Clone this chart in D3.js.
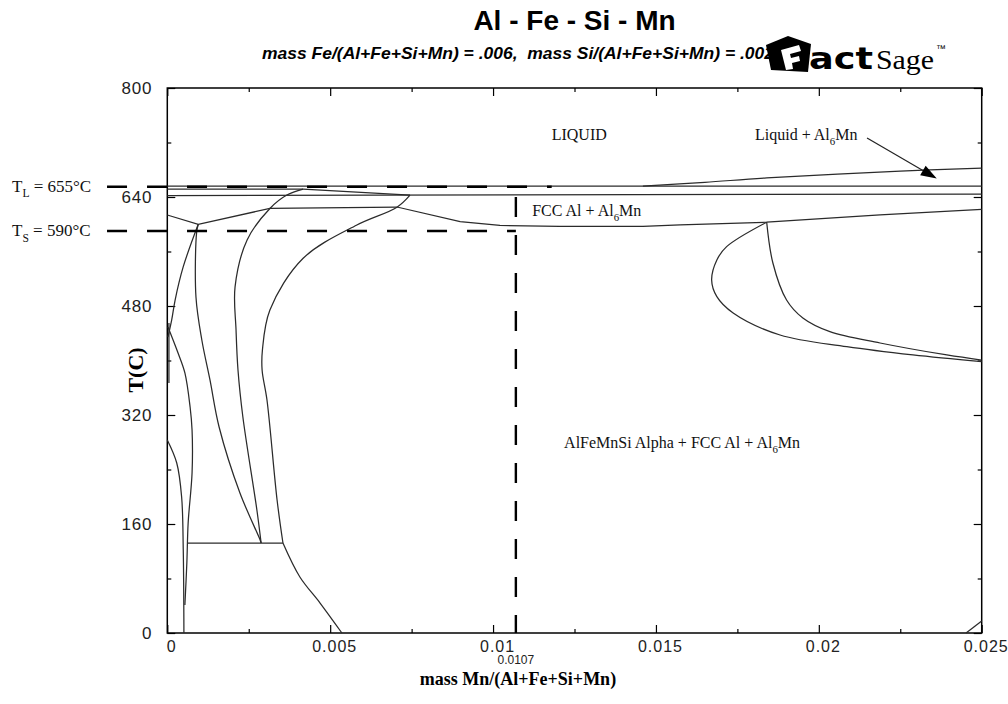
<!DOCTYPE html>
<html>
<head>
<meta charset="utf-8">
<script src="https://cdn.jsdelivr.net/npm/d3@7"></script>
<style>
  body { margin: 0; background: #fff; }
  svg { display: block; }
</style>
</head>
<body>
<svg id="chart" width="1008" height="704"></svg>
<script>
// ---- axis ticks ----
const xTicks = [0, 0.005, 0.01, 0.015, 0.02, 0.025];
const xTickLabels = ["0", "0.005", "0.01", "0.015", "0.02", "0.025"];
const xMinorTicks = [0.0025, 0.0075, 0.0125, 0.0175, 0.0225];
const yTicks = [0, 160, 320, 480, 640, 800];
const yTickLabels = ["0", "160", "320", "480", "640", "800"];
const yMinorTicks = [80, 240, 400, 560, 720];

// ---- phase boundaries: [mass Mn fraction, T (°C)] ----
const liquidusFCC = [[0, 656], [0.025, 656]];
const liquidusAl6Mn = [[0.0146, 656], [0.0165, 661.5], [0.0184, 668], [0.0225, 678], [0.025, 682.5]];
const lensTop = [[0, 651.7], [0.00417, 651.7], [0.00745, 642.7]];
const peritecticLine = [[0, 642], [0.025, 644.4]];
const fccSolidus = [[0, 613.6], [0.00095, 600], [0.00315, 623.2], [0.00705, 625.3], [0.00899, 603.7],
  [0.01021, 598.2], [0.01205, 596.7], [0.0146, 596.7], [0.01574, 598.9], [0.0184, 603],
  [0.02188, 613.6], [0.025, 622]];
const leftSolvus = [[0.00095, 600], [0.00049, 537.7], [0.00024, 488.8], [0.000135, 459.5], [0.00002, 434.5]];
const alphaBoundary = [[0.00095, 600], [0.0009, 588], [0.00088, 493.2], [0.00106, 430.1], [0.00131, 371.4],
  [0.00159, 302.4], [0.00223, 205.5], [0.00285, 136.5], [0.00288, 132.1]];
const lensLeft = [[0.00417, 651.7], [0.00367, 642.9], [0.00315, 623.2], [0.00245, 576.9], [0.00208, 508.1],
  [0.00211, 445], [0.00217, 386.1], [0.00232, 317.1], [0.00275, 180.6], [0.00288, 132.1]];
const lensRight = [[0.00745, 642.7], [0.00705, 625], [0.00582, 598.9], [0.00417, 550], [0.00315, 474.1],
  [0.00292, 415.4], [0.00291, 386.1], [0.00306, 342], [0.00337, 195.2], [0.00355, 132.1]];
const invariantLine = [[0.00063, 132.1], [0.00355, 132.1]];
const lowTempBoundary = [[0.00355, 132.1], [0.00407, 82.2], [0.00469, 44], [0.00536, 0]];
const leftInner = [[0.00002, 449.2], [0.00033, 411], [0.00054, 381.7], [0.0007, 331.7], [0.00076, 298],
  [0.00076, 234.9], [0.00064, 161.5], [0.0006, 102.8], [0.00054, 41.1]];
const leftOuter = [[0, 283.3], [0.00029, 249.5], [0.00044, 199.6], [0.00049, 121.8], [0.00051, 0]];
const axisSolvus = [[0.00005, 455], [0.00005, 367]];
const al6MnUpper = [[0.0184, 603], [0.01717, 567.1], [0.01687, 547.5], [0.01671, 518.2], [0.01687, 493.7],
  [0.01737, 469.7], [0.01881, 437.4], [0.02086, 420.3], [0.02289, 408.1], [0.025, 398.2]];
const al6MnLower = [[0.0184, 603], [0.01859, 543.1], [0.01901, 488.8], [0.01951, 462.4], [0.02034, 442.3],
  [0.02188, 425.7], [0.02393, 408.1], [0.025, 400.7]];
const cornerBoundary = [[0.02452, 0], [0.025, 17.6]];

const straightBoundaries = [liquidusFCC, lensTop, peritecticLine, fccSolidus, invariantLine, axisSolvus, cornerBoundary];
const curvedBoundaries = [liquidusAl6Mn, leftSolvus, alphaBoundary, lensLeft, lensRight, lowTempBoundary,
  leftInner, leftOuter, al6MnUpper, al6MnLower];

// ---- alloy guide values ----
const liquidusTemp = 655;
const solidusTemp = 590;
const alloyMn = 0.0107;
const guideStartMn = -0.00185;
const liquidusGuideEndMn = 0.0118;
const alloyGuideTopT = 640;

// ---- region labels: [mass Mn, T] anchor and text pieces ----
const regionLabels = [
  { at: [0.0118, 723.7], parts: [{ t: "LIQUID" }] },
  { at: [0.01804, 723.7], parts: [{ t: "Liquid + Al" }, { t: "6", sub: true }, { t: "Mn" }] },
  { at: [0.0112, 612.1], parts: [{ t: "FCC Al + Al" }, { t: "6", sub: true }, { t: "Mn" }] },
  { at: [0.01218, 271.6], parts: [{ t: "AlFeMnSi Alpha + FCC Al + Al" }, { t: "6", sub: true }, { t: "Mn" }] }
];
const arrowFrom = [0.02148, 726.6];
const arrowTo = [0.02362, 667.2];

// ---- drawing ----
const svg = d3.select("#chart");
const x = d3.scaleLinear().domain([0, 0.025]).range([167.3, 981.7]);
const y = d3.scaleLinear().domain([0, 800]).range([633, 88]);

const serif = "'Liberation Serif', 'Times New Roman', serif";
const sans = "'Liberation Sans', Arial, sans-serif";

// title and subtitle
svg.append("text")
  .attr("x", 574.5).attr("y", 30)
  .attr("text-anchor", "middle")
  .attr("font-family", sans).attr("font-weight", "bold").attr("font-size", 28)
  .text("Al - Fe - Si - Mn");

svg.append("text")
  .attr("x", 262).attr("y", 59)
  .attr("font-family", sans).attr("font-weight", "bold").attr("font-style", "italic")
  .attr("font-size", 17)
  .attr("textLength", 512).attr("lengthAdjust", "spacingAndGlyphs")
  .style("white-space", "pre")
  .text("mass Fe/(Al+Fe+Si+Mn) = .006,  mass Si/(Al+Fe+Si+Mn) = .002");

// FactSage mark
const logo = svg.append("g");
logo.append("path")
  .attr("d", "M766,45 L788,36 L811,44 L808,72 L771,70 Z")
  .attr("fill", "#000");
logo.append("path")
  .attr("d", "M781,50 L799,45 L801,51 L790,54 L791,58 L799,56 L800,61 L792,63 L793,69 L786,70 Z")
  .attr("fill", "#fff");
logo.append("text")
  .attr("x", 809).attr("y", 69)
  .attr("font-family", "'DejaVu Sans', sans-serif").attr("font-weight", "bold").attr("font-size", 31)
  .attr("textLength", 64).attr("lengthAdjust", "spacingAndGlyphs")
  .text("act");
logo.append("text")
  .attr("x", 876).attr("y", 69)
  .attr("font-family", serif).attr("font-size", 27)
  .attr("textLength", 58).attr("lengthAdjust", "spacingAndGlyphs")
  .text("Sage");
logo.append("text")
  .attr("x", 936).attr("y", 52)
  .attr("font-family", sans).attr("font-size", 10)
  .text("™");

// axes with inward ticks
function styleAxis(g) {
  g.select(".domain").remove();
  g.selectAll("line").attr("stroke", "#000").attr("stroke-width", 1.2);
  g.selectAll("text").attr("fill", "#222");
  g.attr("font-family", sans).attr("font-size", 16);
}

const bottom = svg.append("g").attr("transform", `translate(0,${y(0)})`)
  .call(d3.axisBottom(x).tickValues(xTicks).tickFormat((d, i) => xTickLabels[i])
    .tickSizeInner(-8).tickSizeOuter(0).tickPadding(8));
styleAxis(bottom);
bottom.selectAll("text").attr("dx", 4).attr("letter-spacing", 1);
svg.append("g").attr("transform", `translate(0,${y(0)})`)
  .call(d3.axisBottom(x).tickValues(xMinorTicks).tickFormat("").tickSizeInner(-4).tickSizeOuter(0))
  .call(styleAxis);
svg.append("g").attr("transform", `translate(0,${y(800)})`)
  .call(d3.axisTop(x).tickValues(xTicks).tickFormat("").tickSizeInner(-8).tickSizeOuter(0))
  .call(styleAxis);
svg.append("g").attr("transform", `translate(0,${y(800)})`)
  .call(d3.axisTop(x).tickValues(xMinorTicks).tickFormat("").tickSizeInner(-4).tickSizeOuter(0))
  .call(styleAxis);

const left = svg.append("g").attr("transform", `translate(${x(0)},0)`)
  .call(d3.axisLeft(y).tickValues(yTicks).tickFormat((d, i) => yTickLabels[i])
    .tickSizeInner(-8).tickSizeOuter(0).tickPadding(15));
styleAxis(left);
left.selectAll("text").attr("font-size", 17).attr("letter-spacing", 0.8);
svg.append("g").attr("transform", `translate(${x(0)},0)`)
  .call(d3.axisLeft(y).tickValues(yMinorTicks).tickFormat("").tickSizeInner(-4).tickSizeOuter(0))
  .call(styleAxis);
svg.append("g").attr("transform", `translate(${x(0.025)},0)`)
  .call(d3.axisRight(y).tickValues(yTicks).tickFormat("").tickSizeInner(-8).tickSizeOuter(0))
  .call(styleAxis);
svg.append("g").attr("transform", `translate(${x(0.025)},0)`)
  .call(d3.axisRight(y).tickValues(yMinorTicks).tickFormat("").tickSizeInner(-4).tickSizeOuter(0))
  .call(styleAxis);

// plot frame
svg.append("rect")
  .attr("x", x(0)).attr("y", y(800))
  .attr("width", x(0.025) - x(0)).attr("height", y(0) - y(800))
  .attr("fill", "none").attr("stroke", "#000").attr("stroke-width", 1.5);

// phase boundaries
const lineStraight = d3.line().x(d => x(d[0])).y(d => y(d[1]));
const lineCurved = d3.line().x(d => x(d[0])).y(d => y(d[1])).curve(d3.curveCatmullRom.alpha(0.5));
const bounds = svg.append("g").attr("fill", "none").attr("stroke", "#2b2b2b").attr("stroke-width", 1.25);
straightBoundaries.forEach(b => bounds.append("path").attr("d", lineStraight(b)));
curvedBoundaries.forEach(b => bounds.append("path").attr("d", lineCurved(b)));

// alloy guides (dashed)
const guides = svg.append("g").attr("stroke", "#000").attr("stroke-width", 2.4)
  .attr("stroke-dasharray", "20,20").attr("fill", "none");
guides.append("line")
  .attr("x1", x(guideStartMn)).attr("x2", x(liquidusGuideEndMn))
  .attr("y1", y(liquidusTemp)).attr("y2", y(liquidusTemp));
guides.append("line")
  .attr("x1", x(guideStartMn)).attr("x2", x(alloyMn))
  .attr("y1", y(solidusTemp)).attr("y2", y(solidusTemp));
guides.append("line")
  .attr("x1", x(alloyMn)).attr("x2", x(alloyMn))
  .attr("y1", y(alloyGuideTopT)).attr("y2", y(0))
  .attr("stroke-dasharray", "20,18");

// rich text helper for subscripts
function richText(parent, parts, size, family) {
  const t = parent.append("text").attr("font-family", family).attr("font-size", size).attr("fill", "#111");
  let shifted = false;
  parts.forEach(p => {
    const s = t.append("tspan").text(p.t);
    if (p.sub) { s.attr("dy", size * 0.32).attr("font-size", size * 0.68); shifted = true; }
    else if (shifted) { s.attr("dy", -size * 0.32); shifted = false; }
  });
  return t;
}

// guide labels
richText(svg, [{ t: "T" }, { t: "L", sub: true }, { t: ` = ${liquidusTemp}°C` }], 17, serif)
  .attr("transform", `translate(12,${y(liquidusTemp) + 5})`);
richText(svg, [{ t: "T" }, { t: "S", sub: true }, { t: ` = ${solidusTemp}°C` }], 17, serif)
  .attr("transform", `translate(12,${y(solidusTemp) + 5})`);
svg.append("text")
  .attr("x", x(alloyMn)).attr("y", 664)
  .attr("text-anchor", "middle")
  .attr("font-family", sans).attr("font-size", 12).attr("fill", "#222")
  .text(String(alloyMn));

// region labels
regionLabels.forEach(l => {
  richText(svg, l.parts, 16, serif)
    .attr("transform", `translate(${x(l.at[0])},${y(l.at[1])})`);
});

// arrow for the Liquid + Al6Mn field
const ax0 = x(arrowFrom[0]), ay0 = y(arrowFrom[1]);
const ax1 = x(arrowTo[0]), ay1 = y(arrowTo[1]);
const ang = Math.atan2(ay1 - ay0, ax1 - ax0);
const headLen = 16, headHalf = 5.5;
const bx = ax1 - headLen * Math.cos(ang), by = ay1 - headLen * Math.sin(ang);
svg.append("line")
  .attr("x1", ax0).attr("y1", ay0).attr("x2", bx).attr("y2", by)
  .attr("stroke", "#222").attr("stroke-width", 1.2);
svg.append("path")
  .attr("d", `M${ax1},${ay1} L${bx + headHalf * Math.sin(ang)},${by - headHalf * Math.cos(ang)} L${bx - headHalf * Math.sin(ang)},${by + headHalf * Math.cos(ang)} Z`)
  .attr("fill", "#000");

// axis titles
svg.append("text")
  .attr("x", 518).attr("y", 685)
  .attr("text-anchor", "middle")
  .attr("font-family", serif).attr("font-weight", "bold").attr("font-size", 18)
  .text("mass Mn/(Al+Fe+Si+Mn)");
svg.append("text")
  .attr("transform", "translate(143,370) rotate(-90)")
  .attr("text-anchor", "middle")
  .attr("font-family", serif).attr("font-weight", "bold").attr("font-size", 22)
  .text("T(C)");
</script>
</body>
</html>
